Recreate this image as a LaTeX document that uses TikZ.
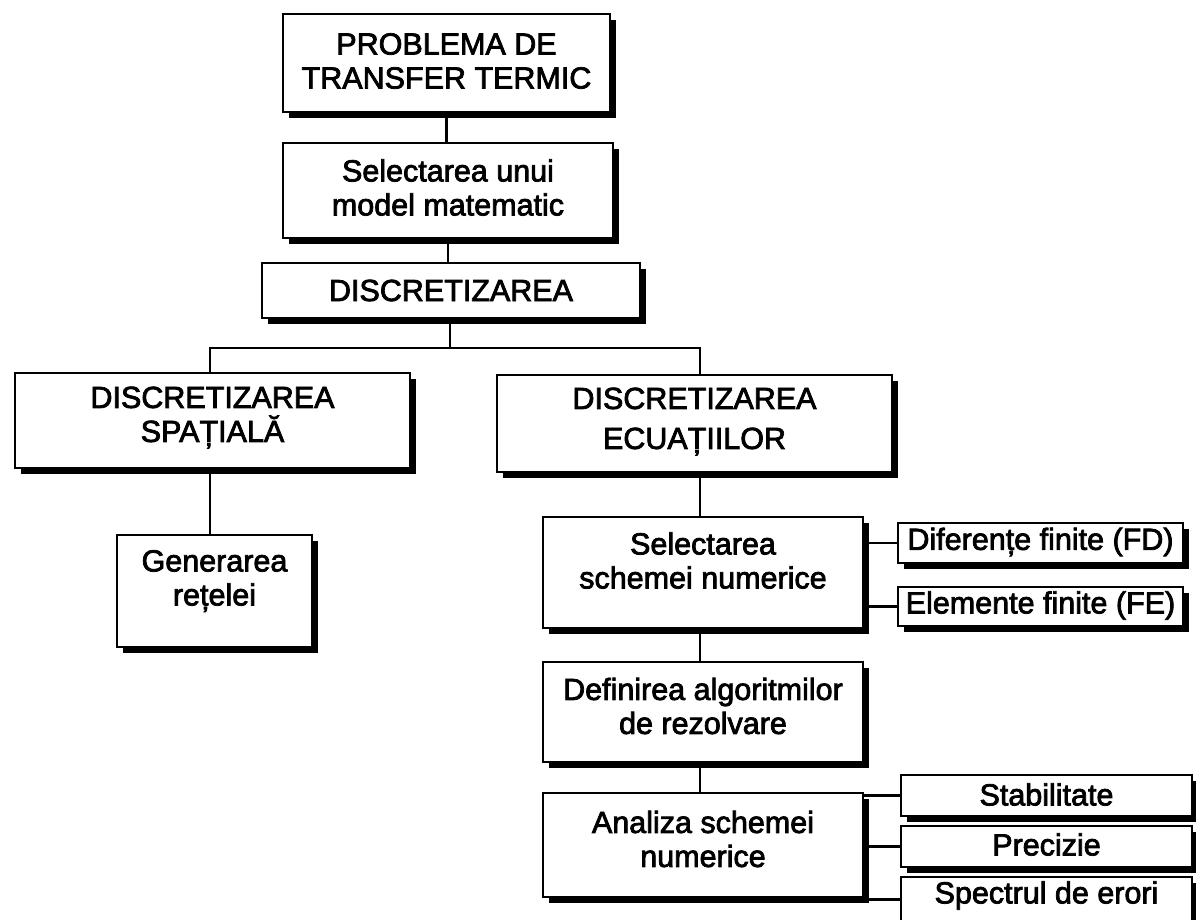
\documentclass[tikz,border=0pt]{standalone}
\usepackage{fontspec}
\newfontfamily\boxfont{Liberation Sans}[FakeBold=2.5]
\usetikzlibrary{shadows}

\tikzset{
  frame/.style={draw=black, line width=2.4pt, fill=white, rectangle, inner sep=0pt,
    drop shadow={shadow xshift=6pt, shadow yshift=-6pt, fill=black, opacity=1}},
  lbl/.style={align=center, inner sep=0pt,
    font=\boxfont\fontsize{30.5}{34}\selectfont},
  link/.style={line width=2.4pt}
}

% \panel{name}{left}{top}{right}{bottom}{text lift}{text}
\newcommand\panel[7]{%
  \node[frame, minimum width={(#4-#2)*1pt}, minimum height={(#5-#3)*1pt}]
    (#1) at ({(#2+#4)/2},{(#3+#5)/2}) {};
  \node[lbl] (#1-t) at ([yshift=#6pt]#1.center) {#7};
}

\begin{document}
\begin{tikzpicture}[x=1pt, y=-1pt]
  \useasboundingbox (0,0) rectangle (1196,919);
  \clip (0,0) rectangle (1196,919);

  % main chain
  \panel{prob}{283}{14}{610}{112}{2}{PROBLEMA DE\\TRANSFER TERMIC}
  \panel{model}{283}{143}{613}{238}{3}{Selectarea unui\\model matematic}
  \panel{disc}{262}{263}{640}{318}{0}{DISCRETIZAREA}

  % two branches
  \panel{spat}{15}{373}{410}{468}{3}{DISCRETIZAREA\\SPAȚIALĂ}
  \panel{ecua}{497}{375}{892}{472}{2}{DISCRETIZAREA\\[6pt]ECUAȚIILOR}

  \panel{grid}{117}{535}{312}{647}{10}{Generarea\\rețelei}

  \panel{sel}{543}{517}{863}{628}{12}{Selectarea\\schemei numerice}
  \panel{fd}{898}{523}{1183}{563}{1}{Diferențe finite (FD)}
  \panel{fe}{898}{587}{1183}{626}{1}{Elemente finite (FE)}

  \panel{alg}{543}{662}{863}{762}{6}{Definirea algoritmilor\\de rezolvare}

  \panel{ana}{543}{793}{863}{897}{6}{Analiza schemei\\numerice}
  \panel{stab}{901}{775}{1192}{816}{1}{Stabilitate}
  \panel{prec}{901}{826}{1192}{867}{2}{Precizie}
  \panel{spec}{901}{877}{1192}{922}{4}{Spectrul de erori}

  % connectors
  \coordinate (split) at (450,348);
  \coordinate (lc) at (210,348);
  \coordinate (rc) at (700,348);

  \draw[link] (prob.south) -- (prob.south |- model.north);
  \draw[link] (model.south) -- (model.south |- disc.north);
  \draw[link] (disc.south -| split) -- (split);
  \draw[link] (lc |- spat.north) -- (lc) -- (rc) -- (rc |- ecua.north);
  \draw[link] (lc |- spat.south) -- (lc |- grid.north);
  \draw[link] (rc |- ecua.south) -- (rc |- sel.north);
  \draw[link] (rc |- sel.south) -- (rc |- alg.north);
  \draw[link] (rc |- alg.south) -- (rc |- ana.north);

  \draw[link] (sel.east |- fd.west) -- (fd.west);
  \draw[link] (sel.east |- fe.west) -- (fe.west);
  \draw[link] (ana.east |- stab.west) -- (stab.west);
  \draw[link] (ana.east |- prec.west) -- (prec.west);
  \draw[link] (ana.east |- spec.west) -- (spec.west);
\end{tikzpicture}
\end{document}
